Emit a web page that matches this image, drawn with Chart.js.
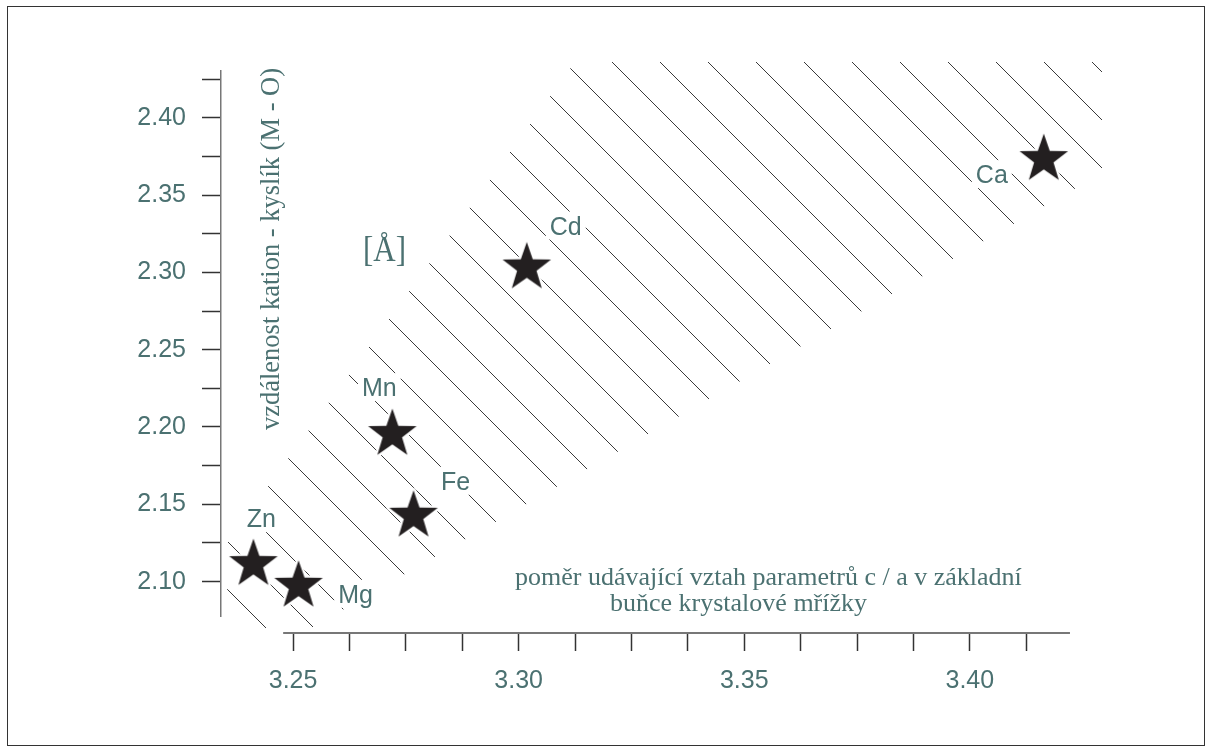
<!DOCTYPE html>
<html>
<head>
<meta charset="utf-8">
<script src="https://cdn.jsdelivr.net/npm/chart.js@4"></script>
<style>
html, body { margin: 0; padding: 0; background: #fff; }
</style>
</head>
<body>
<canvas id="chart" width="1212" height="752"></canvas>
<script>
// carbonates: c/a ratio vs cation - oxygen distance
const elements = ['Zn', 'Mg', 'Mn', 'Fe', 'Cd', 'Ca'];
const ratioCA = [3.2412, 3.2512, 3.2720, 3.2767, 3.3018, 3.4164];
const distMO = [2.1113, 2.0973, 2.1954, 2.1426, 2.3031, 2.3732];

// hatched band (polygon corners, data units)
const bandX = [3.2354, 3.3125, 3.4293, 3.4293, 3.2540, 3.2354];
const bandY = [2.1250, 2.4360, 2.4360, 2.3642, 2.0701, 2.0701];

const xTickValues = [3.25, 3.2625, 3.275, 3.2875, 3.30, 3.3125, 3.325, 3.3375, 3.35, 3.3625, 3.375, 3.3875, 3.40, 3.4125];
const xTickLabels = ['3.25', '', '', '', '3.30', '', '', '', '3.35', '', '', '', '3.40', ''];
const yTickValues = [2.10, 2.125, 2.15, 2.175, 2.20, 2.225, 2.25, 2.275, 2.30, 2.325, 2.35, 2.375, 2.40, 2.425];
const yTickLabels = ['2.10', '', '2.15', '', '2.20', '', '2.25', '', '2.30', '', '2.35', '', '2.40', ''];

// visible extent of the axis lines
const xAxisSpan = [3.2478, 3.4222];
const yAxisSpan = [2.0772, 2.4308];

const yTitle = 'vzdálenost kation - kyslík (M - O)';
const yUnit = '[Å]';
const xTitle = ['poměr udávající vztah parametrů c / a v základní', 'buňce krystalové mřížky'];

const teal = '#4b7171';
const sans = '"Liberation Sans", Arial, sans-serif';
const serif = '"Liberation Serif", "Times New Roman", serif';

// label offsets from the star centre, px
const labelOffsets = [[8, -46], [57, 8], [-13, -47], [42, -35], [39, -42], [-52, 15]];

const canvas = document.getElementById('chart');
const ctx = canvas.getContext('2d');

function makeHatch() {
	const c = document.createElement('canvas');
	c.width = 48;
	c.height = 48;
	const g = c.getContext('2d');
	g.strokeStyle = '#3a3a3a';
	g.lineWidth = 1;
	g.beginPath();
	for (const off of [-22, 26, 74]) {
		g.moveTo(-5, -5 + off);
		g.lineTo(53, 53 + off);
	}
	g.stroke();
	return ctx.createPattern(c, 'repeat');
}

function makeStar() {
	const c = document.createElement('canvas');
	c.width = 62;
	c.height = 62;
	const g = c.getContext('2d');
	const R = 25.5, r = R * 0.4;
	g.beginPath();
	for (let k = 0; k < 10; k++) {
		const a = -Math.PI / 2 + k * Math.PI / 5;
		const rad = k % 2 ? r : R;
		g.lineTo(31 + rad * Math.cos(a), 31 + rad * Math.sin(a));
	}
	g.closePath();
	g.lineJoin = 'round';
	g.strokeStyle = '#fff';
	g.lineWidth = 5;
	g.stroke();
	g.fillStyle = '#231f20';
	g.fill();
	return c;
}

const decor = {
	id: 'decor',
	afterDatasetDraw(chart, args) {
		if (args.index !== 1) return;
		// element labels, with white knock-out behind them
		const c = chart.ctx;
		const meta = chart.getDatasetMeta(0);
		c.save();
		c.font = '25px ' + sans;
		c.textAlign = 'center';
		c.textBaseline = 'alphabetic';
		meta.data.forEach((pt, i) => {
			const cx = pt.x + labelOffsets[i][0];
			const cy = pt.y + labelOffsets[i][1];
			const w = c.measureText(elements[i]).width;
			c.fillStyle = '#fff';
			c.fillRect(cx - w / 2 - 4, cy - 14, w + 8, 28);
			c.fillStyle = teal;
			c.fillText(elements[i], cx, cy + 9);
		});
		c.restore();
	},
	afterDraw(chart) {
		const c = chart.ctx;
		const xs = chart.scales.x, ys = chart.scales.y;
		c.save();
		// axis lines
		c.strokeStyle = '#777';
		c.lineWidth = 2;
		c.beginPath();
		c.moveTo(xs.getPixelForValue(xAxisSpan[0]), ys.bottom);
		c.lineTo(xs.getPixelForValue(xAxisSpan[1]), ys.bottom);
		c.stroke();
		c.lineWidth = 1.5;
		c.beginPath();
		c.moveTo(xs.left + 0.75, ys.getPixelForValue(yAxisSpan[1]));
		c.lineTo(xs.left + 0.75, ys.getPixelForValue(yAxisSpan[0]));
		c.stroke();

		// titles
		c.fillStyle = teal;
		c.font = '26.5px ' + serif;
		c.textBaseline = 'alphabetic';
		c.save();
		c.translate(279, 249);
		c.rotate(-Math.PI / 2);
		c.textAlign = 'center';
		c.fillText(yTitle, 0, 0);
		c.restore();

		c.font = '26px ' + serif;
		c.textAlign = 'left';
		c.fillText(xTitle[0], 515, 585);
		c.fillText(xTitle[1], 610, 611);

		c.save();
		c.translate(384.5, 261);
		c.scale(0.86, 1);
		c.font = '36px ' + serif;
		c.textAlign = 'center';
		c.fillText(yUnit, 0, 0);
		c.restore();

		// frame
		c.strokeStyle = '#333';
		c.lineWidth = 1;
		c.strokeRect(7.5, 6.5, 1197, 739);
		c.restore();
	}
};

new Chart(ctx, {
	type: 'line',
	data: {
		datasets: [
			{
				label: 'carbonates',
				data: ratioCA.map((x, i) => ({ x: x, y: distMO[i] })),
				showLine: false,
				pointStyle: makeStar(),
				pointRadius: 12,
				clip: false,
			},
			{
				label: 'band',
				data: bandX.map((x, i) => ({ x: x, y: bandY[i] })),
				fill: 'shape',
				backgroundColor: makeHatch(),
				borderColor: 'rgba(0,0,0,0)',
				borderWidth: 0,
				pointRadius: 0,
				tension: 0,
			},
		],
	},
	options: {
		responsive: false,
		animation: false,
		layout: { padding: { top: 62, right: 110, left: 0, bottom: 0 } },
		plugins: {
			legend: { display: false },
			tooltip: { enabled: false },
		},
		scales: {
			x: {
				type: 'linear',
				min: 3.2338,
				max: 3.4293,
				afterBuildTicks: (s) => { s.ticks = xTickValues.map((v) => ({ value: v })); },
				afterFit: (s) => { s.height = 119; },
				border: { display: false },
				grid: { drawOnChartArea: false, drawTicks: true, tickLength: 18, tickColor: '#333', tickWidth: 1.5 },
				ticks: {
					autoSkip: false,
					maxRotation: 0,
					padding: 15,
					color: teal,
					font: { family: sans, size: 25 },
					callback: (v, i) => xTickLabels[i],
				},
			},
			y: {
				type: 'linear',
				min: 2.0668,
				max: 2.4360,
				afterBuildTicks: (s) => { s.ticks = yTickValues.map((v) => ({ value: v })); },
				afterFit: (s) => { s.width = 220; },
				border: { display: false },
				grid: { drawOnChartArea: false, drawTicks: true, tickLength: 18, tickColor: '#333', tickWidth: 1.5 },
				ticks: {
					autoSkip: false,
					padding: 16,
					color: teal,
					font: { family: sans, size: 25 },
					callback: (v, i) => yTickLabels[i],
				},
			},
		},
	},
	plugins: [decor],
});
</script>
</body>
</html>
